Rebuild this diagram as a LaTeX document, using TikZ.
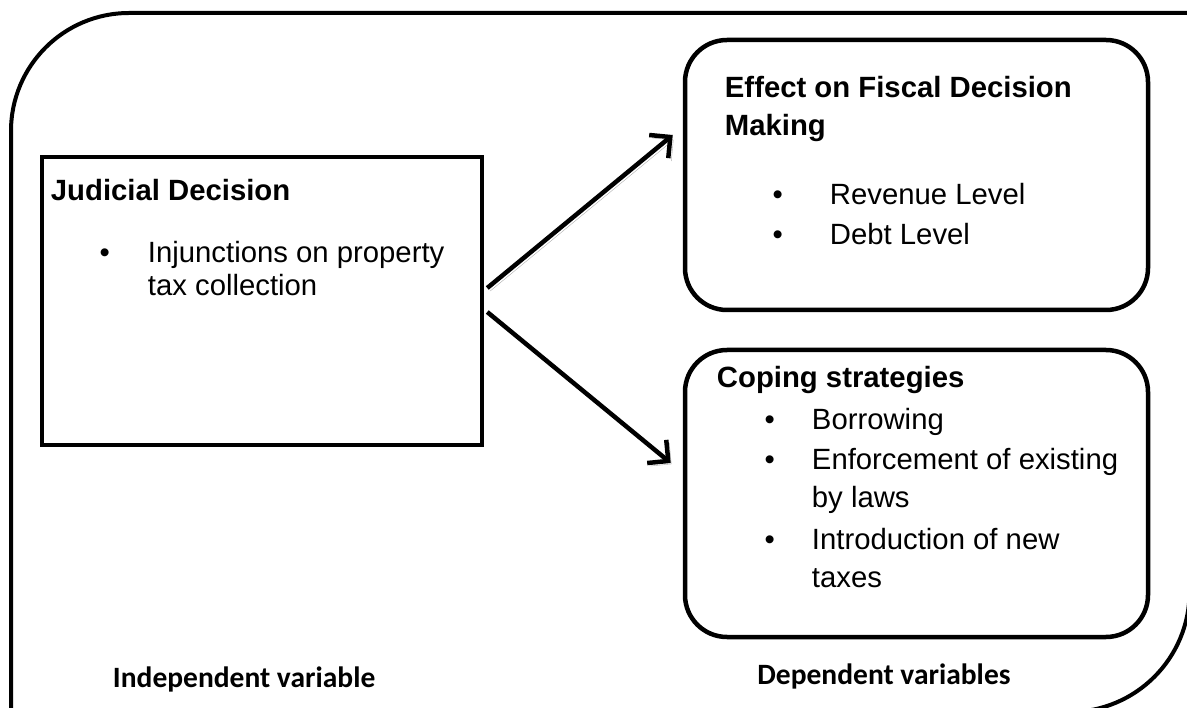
\documentclass[tikz,border=0pt]{standalone}
\usepackage{fontspec}
\setmainfont{Liberation Sans}
\newfontfamily\calfont{Carlito}
\usetikzlibrary{positioning,calc,arrows.meta}

\tikzstyle{line} = [draw, line width=4.5pt, -{Straight Barb[length=15pt,width=30pt]},
     preaction={draw=gray!65, transform canvas={shift={(3pt,-3pt)}}}]
\tikzstyle{frame} = [draw=black, line width=4pt]
\tikzstyle{indep} = [rectangle, minimum width=440pt, minimum height=288pt, draw=black,
     line width=4.5pt, inner sep=0pt]
\tikzstyle{dep} = [rectangle, rounded corners=42pt, minimum width=463pt, draw=black,
     line width=4.5pt, inner sep=0pt]
\tikzstyle{head} = [anchor=base west, inner sep=0pt, align=left,
     font=\fontsize{29.3pt}{38pt}\selectfont\bfseries]
\tikzstyle{item} = [anchor=base west, inner sep=0pt, align=left,
     font=\fontsize{29.3pt}{38pt}\selectfont]
\tikzstyle{dot} = [anchor=base, inner sep=0pt, font=\fontsize{29.3pt}{38pt}\selectfont]
\tikzstyle{var} = [anchor=base west, inner sep=0pt, font=\fontsize{29.5pt}{32pt}\selectfont\calfont\bfseries]

\begin{document}
\begin{tikzpicture}[x=1pt,y=1pt]
\useasboundingbox (0,0) rectangle (1187,-708);
\clip (0,0) rectangle (1187,-708);

% outer frame, round corners top left and bottom right only
\draw[frame] (11,-720) -- (11,-131) arc[start angle=180, end angle=90, radius=118]
     -- (1189.5,-13) -- (1189.5,-592) arc[start angle=0, end angle=-90, radius=120] -- cycle;

% independent variable
\node (judicial) [indep] at (262,-301) {};
\node (judtitle) [below right=46pt and 11pt of judicial.north west, head] {Judicial Decision};
\node (judbul) [below right=108pt and 65pt of judicial.north west, dot] {•};
\node (judinj) [below right=141pt and 108pt of judicial.north west, item,
     font=\fontsize{29.3pt}{33pt}\selectfont] {Injunctions on property\\tax collection};

% dependent variables
\node (effect) [dep, minimum height=270pt] at (916.5,-175) {};
\node (efftitle) [below right=98pt and 42pt of effect.north west, head] {Effect on Fiscal Decision\\Making};
\node (effbul1) [below right=167pt and 95pt of effect.north west, dot] {•};
\node (effrev) [below right=167pt and 147pt of effect.north west, item] {Revenue Level};
\node (effbul2) [below right=207pt and 95pt of effect.north west, dot] {•};
\node (effdebt) [below right=207pt and 147pt of effect.north west, item] {Debt Level};

\node (coping) [dep, minimum height=287pt] at (916.5,-493.5) {};
\node (coptitle) [below right=40pt and 34pt of coping.north west, head] {Coping strategies};
\node (copbul1) [below right=82pt and 87pt of coping.north west, dot] {•};
\node (copborrow) [below right=82pt and 129pt of coping.north west, item] {Borrowing};
\node (copbul2) [below right=122pt and 87pt of coping.north west, dot] {•};
\node (copenforce) [below right=160pt and 129pt of coping.north west, item] {Enforcement of existing\\by laws};
\node (copbul3) [below right=202pt and 87pt of coping.north west, dot] {•};
\node (copintro) [below right=240pt and 129pt of coping.north west, item] {Introduction of new\\taxes};

% labels
\node (indeplabel) [below right=240pt and 73pt of judicial.south west, var] {Independent variable};
\node (deplabel) [below right=45pt and 328pt of coping.south west, var, anchor=base east] {Dependent variables};

\draw[line] ($(judicial.east)+(3,13)$) -- ($(effect.west)+(-10,40)$);
\draw[line] ($(judicial.east)+(3,-11)$) -- ($(coping.west)+(-12,30.5)$);

\end{tikzpicture}
\end{document}
